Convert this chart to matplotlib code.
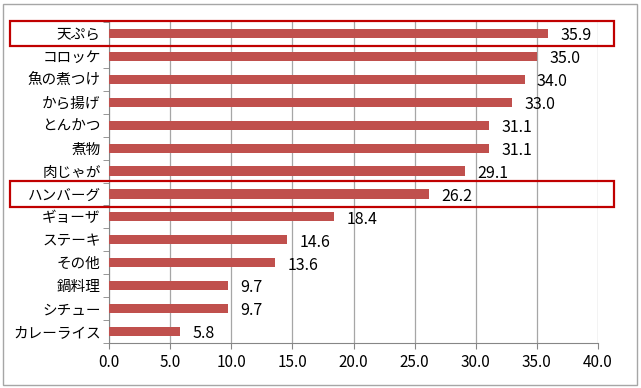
import matplotlib
matplotlib.use("Agg")
import matplotlib.pyplot as plt
from matplotlib.patches import Rectangle
from matplotlib.transforms import blended_transform_factory

plt.rcParams['font.family'] = ['Noto Sans CJK JP', 'DejaVu Sans']

dishes = ['天ぷら', 'コロッケ', '魚の煮つけ', 'から揚げ', 'とんかつ', '煮物', '肉じゃが',
          'ハンバーグ', 'ギョーザ', 'ステーキ', 'その他', '鍋料理', 'シチュー', 'カレーライス']
values = [35.9, 35.0, 34.0, 33.0, 31.1, 31.1, 29.1, 26.2, 18.4, 14.6, 13.6, 9.7, 9.7, 5.8]
highlight = ['天ぷら', 'ハンバーグ']
xticks = [0, 5, 10, 15, 20, 25, 30, 35, 40]

fig = plt.figure(figsize=(6.41, 3.88), dpi=100)
ax = fig.add_axes([109 / 641, 1 - 343 / 388, (598 - 109) / 641, (343 - 22) / 388])

pos = list(range(len(dishes)))
ax.barh(pos, values, height=0.4, color='#C0504D', zorder=3)
ax.set_ylim(len(dishes) - 0.5, -0.5)
ax.set_xlim(0, 40)
ax.set_xticks(xticks)
ax.set_xticklabels(['%.1f' % t for t in xticks], fontsize=11)
ax.set_yticks(pos)
ax.set_yticklabels(dishes, fontsize=10.5)
ax.set_yticks([p + 0.5 for p in range(-1, len(dishes))], minor=True)
ax.tick_params(axis='y', which='major', length=0, pad=6)
ax.tick_params(axis='y', which='minor', length=4, color='#868686', direction='out')
ax.tick_params(axis='x', length=4, color='#868686', direction='out', pad=4)
ax.grid(axis='x', color='#A6A6A6', linewidth=0.9, zorder=0)
for s in ['top', 'right']:
    ax.spines[s].set_visible(False)
for s in ['left', 'bottom']:
    ax.spines[s].set_color('#868686')

for p, v in zip(pos, values):
    ax.text(v + 1.0, p + 0.1, '%.1f' % v, va='center', ha='left', fontsize=11.5)

trans = blended_transform_factory(fig.transFigure, ax.transData)
for name in highlight:
    i = dishes.index(name)
    fig.patches.append(Rectangle((10 / 641, i - 0.55), (614 - 10) / 641, 1.1,
                                 transform=trans, fill=False, edgecolor='#C00000',
                                 linewidth=1.6, zorder=5))

# outer frame
fig.patches.append(Rectangle((3 / 641, 3 / 388), 634 / 641, 381 / 388,
                             transform=fig.transFigure, fill=False,
                             edgecolor='#A6A6A6', linewidth=1))

fig.savefig('out.png', dpi=100)
